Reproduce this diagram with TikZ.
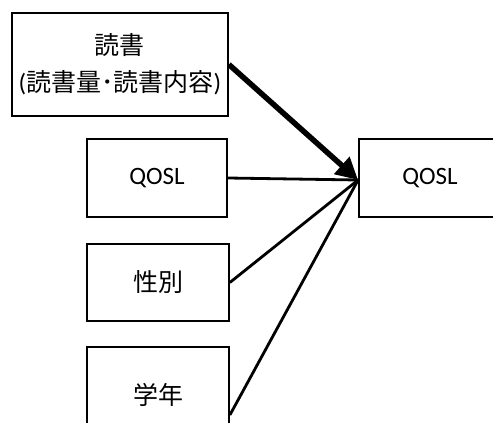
\documentclass[tikz,border=0pt]{standalone}
\usepackage{fontspec}
\setmainfont{Carlito}
\newfontfamily\cjk{Noto Sans CJK JP}
\usetikzlibrary{arrows.meta}
\tikzset{
  box/.style={draw=black, line width=1.8pt, fill=white, inner sep=0pt, align=center, font=\fontsize{25}{37}\selectfont},
  thin/.style={line width=2.8pt},
  thick/.style={line width=5.5pt, -{Triangle[length=22pt,width=22pt]}},
}
\begin{document}
\begin{tikzpicture}[x=1pt,y=-1pt]
\useasboundingbox (0,0) rectangle (493,423);
\clip (0,0) rectangle (493,423);
\fill[white] (0,0) rectangle (493,423);
\node[box, minimum width=216pt, minimum height=103pt] (r1) at (120,64.5) {{\cjk 読書}\\({\cjk 読書量･読書内容})};
\node[box, minimum width=140pt, minimum height=78pt] (q) at (157,178) {QOSL};
\node[box, minimum width=142pt, minimum height=77pt] (s) at (158,282.5) {\raisebox{-3pt}{\cjk 性別}};
\node[box, minimum width=142pt, minimum height=106pt] (g) at (158,400) {\raisebox{12pt}{\cjk 学年}};
\node[box, minimum width=142pt, minimum height=78pt] (t) at (430,178) {QOSL};
\coordinate (tip) at ([yshift=-2pt]t.west);
\draw[thin] (q.east) -- (tip);
\draw[thin] (s.east) -- (tip);
\draw[thin] ([yshift=-15pt]g.east) -- (tip);
\draw[thick] (r1.east) -- (tip);
\end{tikzpicture}
\end{document}
